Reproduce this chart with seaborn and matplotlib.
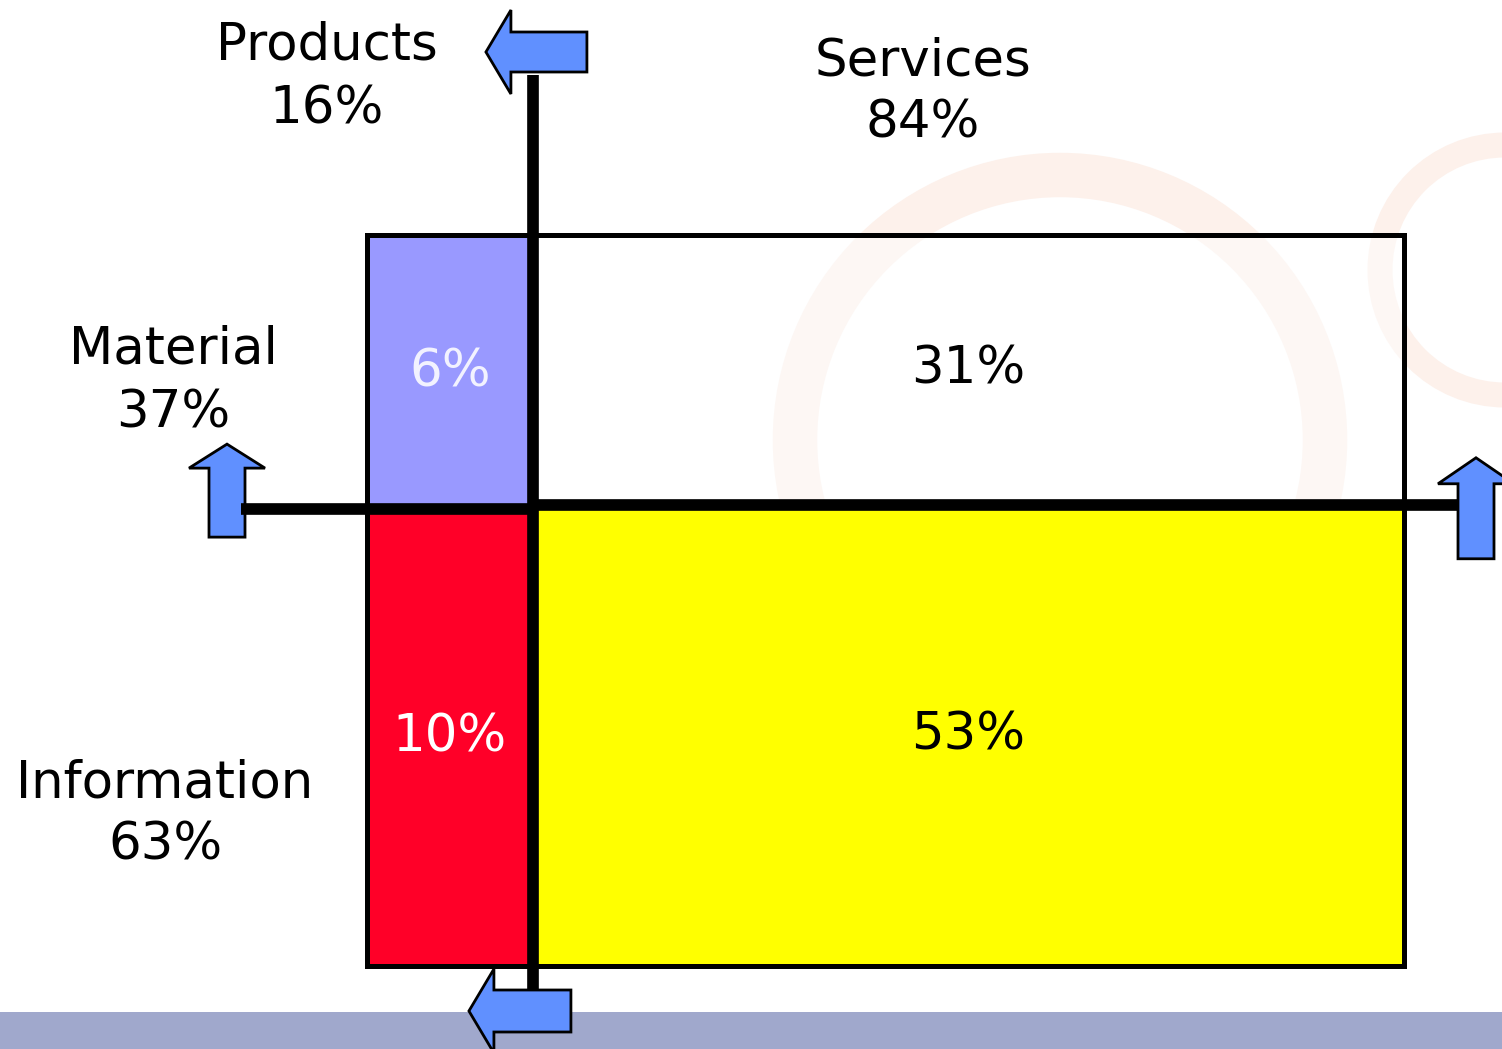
import numpy as np
import pandas as pd
import matplotlib
matplotlib.use("Agg")
import matplotlib.pyplot as plt
import seaborn as sns
from matplotlib.patches import Polygon, Rectangle, Circle
from matplotlib.colors import to_rgba

# ---------------- data ----------------
groups = ["Products", "Services"]
group_share = [16, 84]
rows = ["Material", "Information"]
row_share = [37, 63]
products_cells = [6, 10]     # Material, Information
services_cells = [31, 53]    # Material, Information
cell_colors = {"Products": ["#9999FF", "#FF0028"], "Services": ["#FFFFFF", "#FFFF00"]}
label_colors = {"Products": ["#F2F2FF", "#FFFFFF"], "Services": ["#000000", "#000000"]}

cells = {"Products": products_cells, "Services": services_cells}

recs = []
left = 0.0
for g, gs in zip(groups, group_share):
    vals = cells[g]
    tot = sum(vals)
    bottom = 0.0
    for r, v, c, lc in zip(rows, vals, cell_colors[g], label_colors[g]):
        h = v / tot * 100
        recs.append(dict(group=g, row=r, value=v, left=left, width=gs,
                         bottom=bottom, height=h, color=c, lcolor=lc))
        bottom += h
    left += gs
df = pd.DataFrame(recs)

# ---------------- figure ----------------
sns.set_theme(style="white")
plt.rcParams['font.family'] = ['DejaVu Sans']

W, H = 1502, 1049
fig = plt.figure(figsize=(W / 100, H / 100), dpi=100)
fig.patch.set_facecolor("white")

bg = fig.add_axes([0, 0, 1, 1])
bg.set_xlim(0, W); bg.set_ylim(H, 0); bg.axis("off")

# faint watermark + bottom band
bg.add_patch(Circle((1060, 440), 265, fill=False, lw=32, ec="#FDF1EB", zorder=0))
bg.add_patch(Circle((1505, 270), 125, fill=False, lw=18, ec="#FDF1EB", zorder=0))
bg.add_patch(Rectangle((0, 1012), W, H - 1012, color="#A0A8CC", lw=0, zorder=1))

BOX = (367, 235, 1404, 966)
ax = fig.add_axes([BOX[0] / W, 1 - BOX[3] / H, (BOX[2] - BOX[0]) / W, (BOX[3] - BOX[1]) / H])
ax.set_xlim(0, 100); ax.set_ylim(100, 0); ax.axis("off"); ax.patch.set_alpha(0)

for _, r in df.iterrows():
    fc = to_rgba(r["color"], 0.45 if r["color"] == "#FFFFFF" else 1.0)
    ax.bar(r["left"], r["height"], width=r["width"], bottom=r["bottom"], align="edge",
           color=fc, edgecolor="black", linewidth=3.6, clip_on=False)
    ax.text(r["left"] + r["width"] / 2, r["bottom"] + r["height"] / 2, f"{r['value']}%",
            ha="center", va="center", fontsize=37, color=r["lcolor"])

fg = fig.add_axes([0, 0, 1, 1])
fg.set_xlim(0, W); fg.set_ylim(H, 0); fg.axis("off"); fg.patch.set_alpha(0)

def px(x):
    return BOX[0] + x / 100 * (BOX[2] - BOX[0])

def py(y):
    return BOX[1] + y / 100 * (BOX[3] - BOX[1])

prod = df[df.group == "Products"].iloc[0]
serv = df[df.group == "Services"].iloc[0]
vx = px(prod["left"] + prod["width"])
sy_p = py(prod["bottom"] + prod["height"])
sy_s = py(serv["bottom"] + serv["height"])

LW = 8.4
ARROW = "#6090FF"

def up_arrow(cx, ty, hb, sb, hw=38, sw=18, z=5):
    pts = [(cx, ty), (cx + hw, hb), (cx + sw, hb), (cx + sw, sb),
           (cx - sw, sb), (cx - sw, hb), (cx - hw, hb)]
    fg.add_patch(Polygon(pts, closed=True, fc=ARROW, ec="black", lw=2, zorder=z, joinstyle="miter"))

def left_arrow(tx, cy, hb, sr, hh=42, sh=20, z=5):
    pts = [(tx, cy), (hb, cy - hh), (hb, cy - sh), (sr, cy - sh),
           (sr, cy + sh), (hb, cy + sh), (hb, cy + hh)]
    fg.add_patch(Polygon(pts, closed=True, fc=ARROW, ec="black", lw=2, zorder=z, joinstyle="miter"))

# thick divider lines
fg.plot([vx, vx], [75, 991], color="black", lw=LW, solid_capstyle="butt", zorder=4)
fg.plot([241, vx], [sy_p, sy_p], color="black", lw=LW, solid_capstyle="butt", zorder=4)
fg.plot([vx, 1460], [sy_s, sy_s], color="black", lw=LW, solid_capstyle="butt", zorder=4)

# arrows
left_arrow(vx - 47, 52, vx - 22, vx + 54)
left_arrow(vx - 64, 1011, vx - 39, vx + 38, sh=21)
up_arrow(227, sy_p - 65, sy_p - 41, sy_p + 28, z=3)
up_arrow(1476, sy_s - 47, sy_s - 21, sy_s + 54)

# outer labels
TS = 37
fg.text(327, 60, groups[0], ha="center", va="baseline", fontsize=TS, color="black")
fg.text(327, 123, f"{group_share[0]}%", ha="center", va="baseline", fontsize=TS, color="black")
fg.text(923, 75, groups[1], ha="center", va="baseline", fontsize=TS, color="black")
fg.text(923, 138, f"{group_share[1]}%", ha="center", va="baseline", fontsize=TS, color="black")
fg.text(173, 364, rows[0], ha="center", va="baseline", fontsize=TS, color="black")
fg.text(173, 427, f"{row_share[0]}%", ha="center", va="baseline", fontsize=TS, color="black")
fg.text(165, 797, rows[1], ha="center", va="baseline", fontsize=TS, color="black")
fg.text(165, 860, f"{row_share[1]}%", ha="center", va="baseline", fontsize=TS, color="black")

fig.savefig("out.png", dpi=100, facecolor="white")
